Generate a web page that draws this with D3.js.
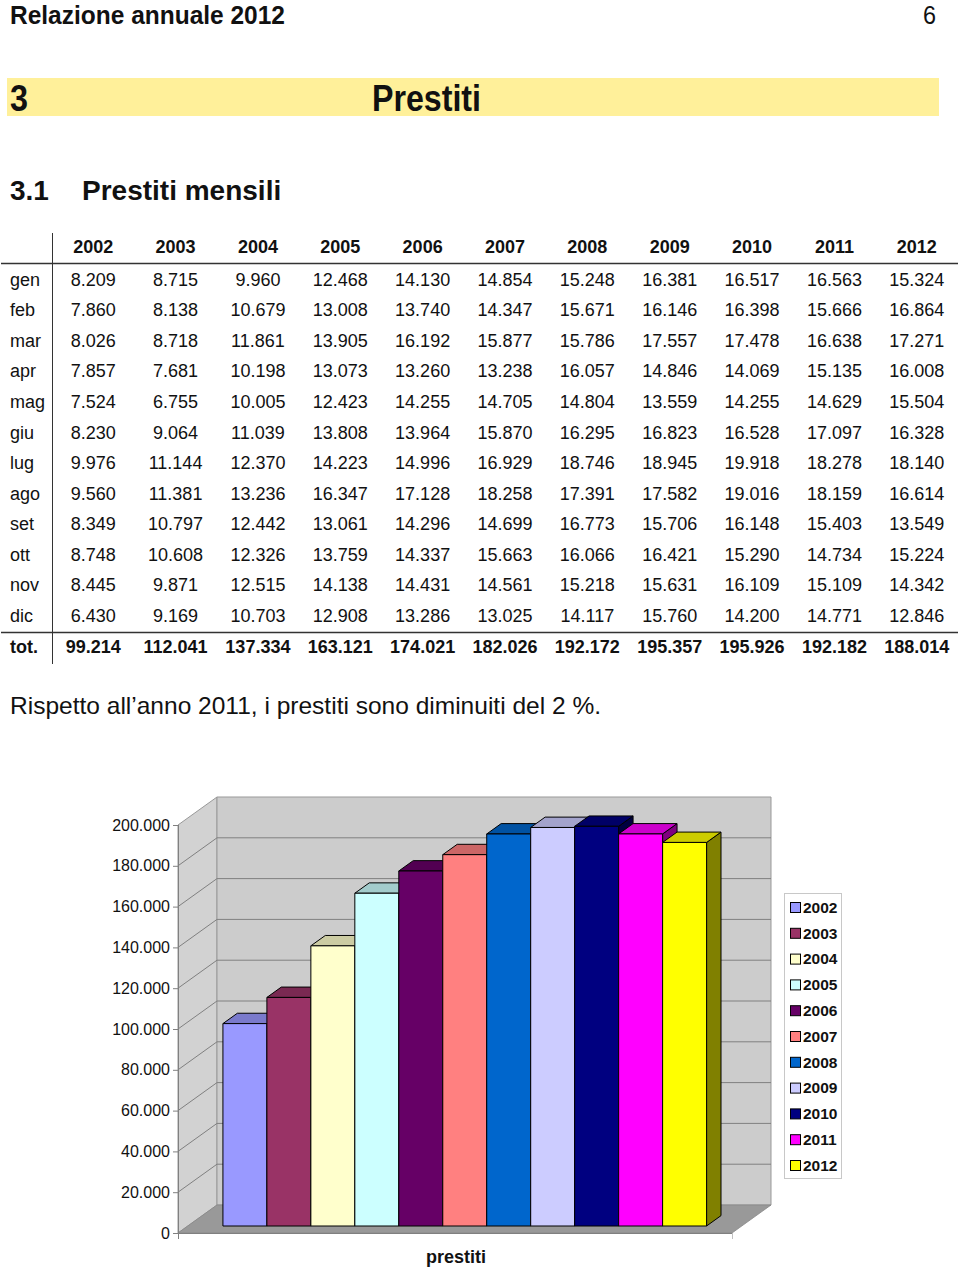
<!DOCTYPE html>
<html>
<head>
<meta charset="utf-8">
<script src="https://cdn.jsdelivr.net/npm/d3@7/dist/d3.min.js"></script>
<style>
  html, body { margin: 0; padding: 0; background: #fff; }
  svg { display: block; }
  text { font-family: "Liberation Sans", Arial, Helvetica, sans-serif; fill: #111; }
</style>
</head>
<body>
<svg id="page" width="960" height="1268"></svg>
<script>
// ---------------- DATA ----------------
const years = ["2002","2003","2004","2005","2006","2007","2008","2009","2010","2011","2012"];
const months = ["gen","feb","mar","apr","mag","giu","lug","ago","set","ott","nov","dic"];
const gen = [8209, 8715, 9960, 12468, 14130, 14854, 15248, 16381, 16517, 16563, 15324];
const feb = [7860, 8138, 10679, 13008, 13740, 14347, 15671, 16146, 16398, 15666, 16864];
const mar = [8026, 8718, 11861, 13905, 16192, 15877, 15786, 17557, 17478, 16638, 17271];
const apr = [7857, 7681, 10198, 13073, 13260, 13238, 16057, 14846, 14069, 15135, 16008];
const mag = [7524, 6755, 10005, 12423, 14255, 14705, 14804, 13559, 14255, 14629, 15504];
const giu = [8230, 9064, 11039, 13808, 13964, 15870, 16295, 16823, 16528, 17097, 16328];
const lug = [9976, 11144, 12370, 14223, 14996, 16929, 18746, 18945, 19918, 18278, 18140];
const ago = [9560, 11381, 13236, 16347, 17128, 18258, 17391, 17582, 19016, 18159, 16614];
const set = [8349, 10797, 12442, 13061, 14296, 14699, 16773, 15706, 16148, 15403, 13549];
const ott = [8748, 10608, 12326, 13759, 14337, 15663, 16066, 16421, 15290, 14734, 15224];
const nov = [8445, 9871, 12515, 14138, 14431, 14561, 15218, 15631, 16109, 15109, 14342];
const dic = [6430, 9169, 10703, 12908, 13286, 13025, 14117, 15760, 14200, 14771, 12846];
const totals = [99214, 112041, 137334, 163121, 174021, 182026, 192172, 195357, 195926, 192182, 188014];
const yTicks = [0, 20000, 40000, 60000, 80000, 100000, 120000, 140000, 160000, 180000, 200000];
const seriesColors = ["#9999FF","#993366","#FFFFCC","#CCFFFF","#660066","#FF8080","#0066CC","#CCCCFF","#000080","#FF00FF","#FFFF00"];
const categoryLabel = "prestiti";

const monthRows = [gen, feb, mar, apr, mag, giu, lug, ago, set, ott, nov, dic];

const it = d3.formatLocale({decimal: ",", thousands: ".", grouping: [3], currency: ["€", ""]});
const fmt = it.format(",d");

const svg = d3.select("#page");

// ---------------- PAGE HEADER ----------------
svg.append("text").attr("x", 10).attr("y", 23.5)
  .attr("textLength", 275).attr("lengthAdjust", "spacingAndGlyphs")
  .style("font-weight", "bold").style("font-size", "25px")
  .text("Relazione annuale 2012");
svg.append("text").attr("x", 936).attr("y", 23.5).attr("text-anchor", "end")
  .attr("textLength", 13).attr("lengthAdjust", "spacingAndGlyphs")
  .style("font-size", "25px")
  .text("6");

svg.append("rect").attr("x", 7).attr("y", 78).attr("width", 932).attr("height", 38).attr("fill", "#FFF09A");
svg.append("text").attr("x", 10).attr("y", 111)
  .attr("textLength", 18).attr("lengthAdjust", "spacingAndGlyphs")
  .style("font-weight", "bold").style("font-size", "37px").text("3");
svg.append("text").attr("x", 372).attr("y", 111)
  .attr("textLength", 109).attr("lengthAdjust", "spacingAndGlyphs")
  .style("font-weight", "bold").style("font-size", "37px").text("Prestiti");

svg.append("text").attr("x", 10).attr("y", 200)
  .style("font-weight", "bold").style("font-size", "28px").text("3.1");
svg.append("text").attr("x", 82).attr("y", 200)
  .style("font-weight", "bold").style("font-size", "28px").text("Prestiti mensili");

// ---------------- TABLE ----------------
const colX = d3.scaleBand().domain(years).range([52, 958]);
const rowY = d3.scaleBand().domain(months).range([264, 631]);
const tbl = svg.append("g");

tbl.selectAll("text.hdr").data(years).join("text")
  .attr("class", "hdr")
  .attr("x", d => colX(d) + colX.bandwidth() / 2).attr("y", 247).attr("dy", "0.35em")
  .attr("text-anchor", "middle").style("font-weight", "bold").style("font-size", "18px")
  .text(d => d);

months.forEach((m, i) => {
  const cy = rowY(m) + rowY.bandwidth() / 2;
  tbl.append("text").attr("x", 10).attr("y", cy).attr("dy", "0.35em")
    .style("font-size", "18px").text(m);
  tbl.selectAll(null).data(monthRows[i]).join("text")
    .attr("x", (d, j) => colX(years[j]) + colX.bandwidth() / 2).attr("y", cy).attr("dy", "0.35em")
    .attr("text-anchor", "middle").style("font-size", "18px")
    .text(d => fmt(d));
});
tbl.append("text").attr("x", 10).attr("y", 647).attr("dy", "0.35em")
  .style("font-size", "18px").style("font-weight", "bold").text("tot.");
tbl.selectAll("text.tot").data(totals).join("text")
  .attr("class", "tot")
  .attr("x", (d, j) => colX(years[j]) + colX.bandwidth() / 2).attr("y", 647).attr("dy", "0.35em")
  .attr("text-anchor", "middle").style("font-size", "18px").style("font-weight", "bold")
  .text(d => fmt(d));

tbl.append("line").attr("x1", 1).attr("x2", 958).attr("y1", 263.5).attr("y2", 263.5).attr("stroke", "#333").attr("stroke-width", 1.5);
tbl.append("line").attr("x1", 1).attr("x2", 958).attr("y1", 632.5).attr("y2", 632.5).attr("stroke", "#333").attr("stroke-width", 1.5);
tbl.append("line").attr("x1", 52.5).attr("x2", 52.5).attr("y1", 233).attr("y2", 664).attr("stroke", "#333").attr("stroke-width", 1);

svg.append("text").attr("x", 10).attr("y", 714)
  .attr("textLength", 591).attr("lengthAdjust", "spacingAndGlyphs")
  .style("font-size", "24px").text("Rispetto all\u2019anno 2011, i prestiti sono diminuiti del 2 %.");

// ---------------- 3D BAR CHART ----------------
const front = {x0: 178, x1: 732, y0: 1233};
const depth = {dx: 39, dy: -28};
const yScale = d3.scaleLinear().domain([0, 200000]).range([0, 408]);
const xScale = d3.scaleBand().domain(years).range([front.x0, front.x1]).paddingInner(0).paddingOuter(0.8);
const barF0 = 0.25, barF1 = 0.62;

function P(x, v, f) { return [x + depth.dx * f, front.y0 - yScale(v) + depth.dy * f]; }
const poly = pts => "M" + pts.map(p => p.join(",")).join("L") + "Z";

const ch = svg.append("g");
const vMax = yScale.domain()[1];

// left wall
ch.append("path").attr("d", poly([P(front.x0, 0, 0), P(front.x0, vMax, 0), P(front.x0, vMax, 1), P(front.x0, 0, 1)]))
  .attr("fill", "#D2D2D2").attr("stroke", "#999").attr("stroke-width", 1);
// back wall
ch.append("path").attr("d", poly([P(front.x0, 0, 1), P(front.x0, vMax, 1), P(front.x1, vMax, 1), P(front.x1, 0, 1)]))
  .attr("fill", "#CCCCCC").attr("stroke", "#999").attr("stroke-width", 1);

// gridlines
const grid = yTicks.filter(t => t > 0 && t < vMax);
ch.selectAll("path.grid").data(grid).join("path").attr("class", "grid")
  .attr("d", t => "M" + P(front.x0, t, 0).join(",") + "L" + P(front.x0, t, 1).join(",") + "L" + P(front.x1, t, 1).join(","))
  .attr("fill", "none").attr("stroke", "#808080").attr("stroke-width", 1);

// floor
ch.append("path").attr("d", poly([P(front.x0, 0, 0), P(front.x1, 0, 0), P(front.x1, 0, 1), P(front.x0, 0, 1)]))
  .attr("fill", "#999999").attr("stroke", "#888").attr("stroke-width", 0.8);

// axis line & ticks
ch.append("line").attr("x1", front.x0 + 0.5).attr("x2", front.x0 + 0.5).attr("y1", front.y0 - yScale(vMax)).attr("y2", front.y0 + 6)
  .attr("stroke", "#808080");
ch.append("line").attr("x1", front.x0).attr("x2", front.x1).attr("y1", front.y0 + 0.5).attr("y2", front.y0 + 0.5).attr("stroke", "#808080");
ch.append("line").attr("x1", front.x1 + 0.5).attr("x2", front.x1 + 0.5).attr("y1", front.y0).attr("y2", front.y0 + 6).attr("stroke", "#C0C0C0");
ch.selectAll("line.tick").data(yTicks).join("line").attr("class", "tick")
  .attr("x1", front.x0 - 5).attr("x2", front.x0).attr("y1", t => front.y0 - yScale(t) + 0.5).attr("y2", t => front.y0 - yScale(t) + 0.5)
  .attr("stroke", "#808080");
ch.selectAll("text.ylab").data(yTicks).join("text").attr("class", "ylab")
  .attr("x", front.x0 - 8).attr("y", t => front.y0 - yScale(t)).attr("dy", "0.35em")
  .attr("text-anchor", "end").style("font-size", "16px")
  .text(t => fmt(t));

// bars
const bars = ch.selectAll("g.bar").data(years.map((y, i) => ({year: y, value: totals[i], color: seriesColors[i]}))).join("g").attr("class", "bar");
bars.each(function(d) {
  const g = d3.select(this);
  const xl = xScale(d.year), xr = xl + xScale.bandwidth();
  const c = d3.rgb(d.color);
  const top = d3.rgb(c.r * 0.8, c.g * 0.8, c.b * 0.8);
  const side = d3.rgb(c.r * 0.5, c.g * 0.5, c.b * 0.5);
  g.append("path").attr("d", poly([P(xr, 0, barF0), P(xr, d.value, barF0), P(xr, d.value, barF1), P(xr, 0, barF1)]))
    .attr("fill", side).attr("stroke", "#000").attr("stroke-width", 1).attr("stroke-linejoin", "round");
  g.append("path").attr("d", poly([P(xl, d.value, barF0), P(xr, d.value, barF0), P(xr, d.value, barF1), P(xl, d.value, barF1)]))
    .attr("fill", top).attr("stroke", "#000").attr("stroke-width", 1).attr("stroke-linejoin", "round");
  g.append("path").attr("d", poly([P(xl, 0, barF0), P(xl, d.value, barF0), P(xr, d.value, barF0), P(xr, 0, barF0)]))
    .attr("fill", c).attr("stroke", "#000").attr("stroke-width", 1).attr("stroke-linejoin", "round");
});

// category label
ch.append("text").attr("x", 456).attr("y", 1263).attr("text-anchor", "middle")
  .style("font-weight", "bold").style("font-size", "18px").text(categoryLabel);

// legend
const lg = ch.append("g");
lg.append("rect").attr("x", 784.5).attr("y", 893.5).attr("width", 57).attr("height", 285)
  .attr("fill", "#fff").attr("stroke", "#C8C8C8");
const ly = d3.scalePoint().domain(years).range([907, 1165]);
lg.selectAll("rect.sw").data(years).join("rect").attr("class", "sw")
  .attr("x", 790.5).attr("y", d => ly(d) - 4.5).attr("width", 10).attr("height", 10)
  .attr("fill", (d, i) => seriesColors[i]).attr("stroke", "#000").attr("stroke-width", 1);
lg.selectAll("text.lt").data(years).join("text").attr("class", "lt")
  .attr("x", 803).attr("y", d => ly(d)).attr("dy", "0.38em")
  .style("font-weight", "bold").style("font-size", "15.5px").text(d => d);
</script>
</body>
</html>
